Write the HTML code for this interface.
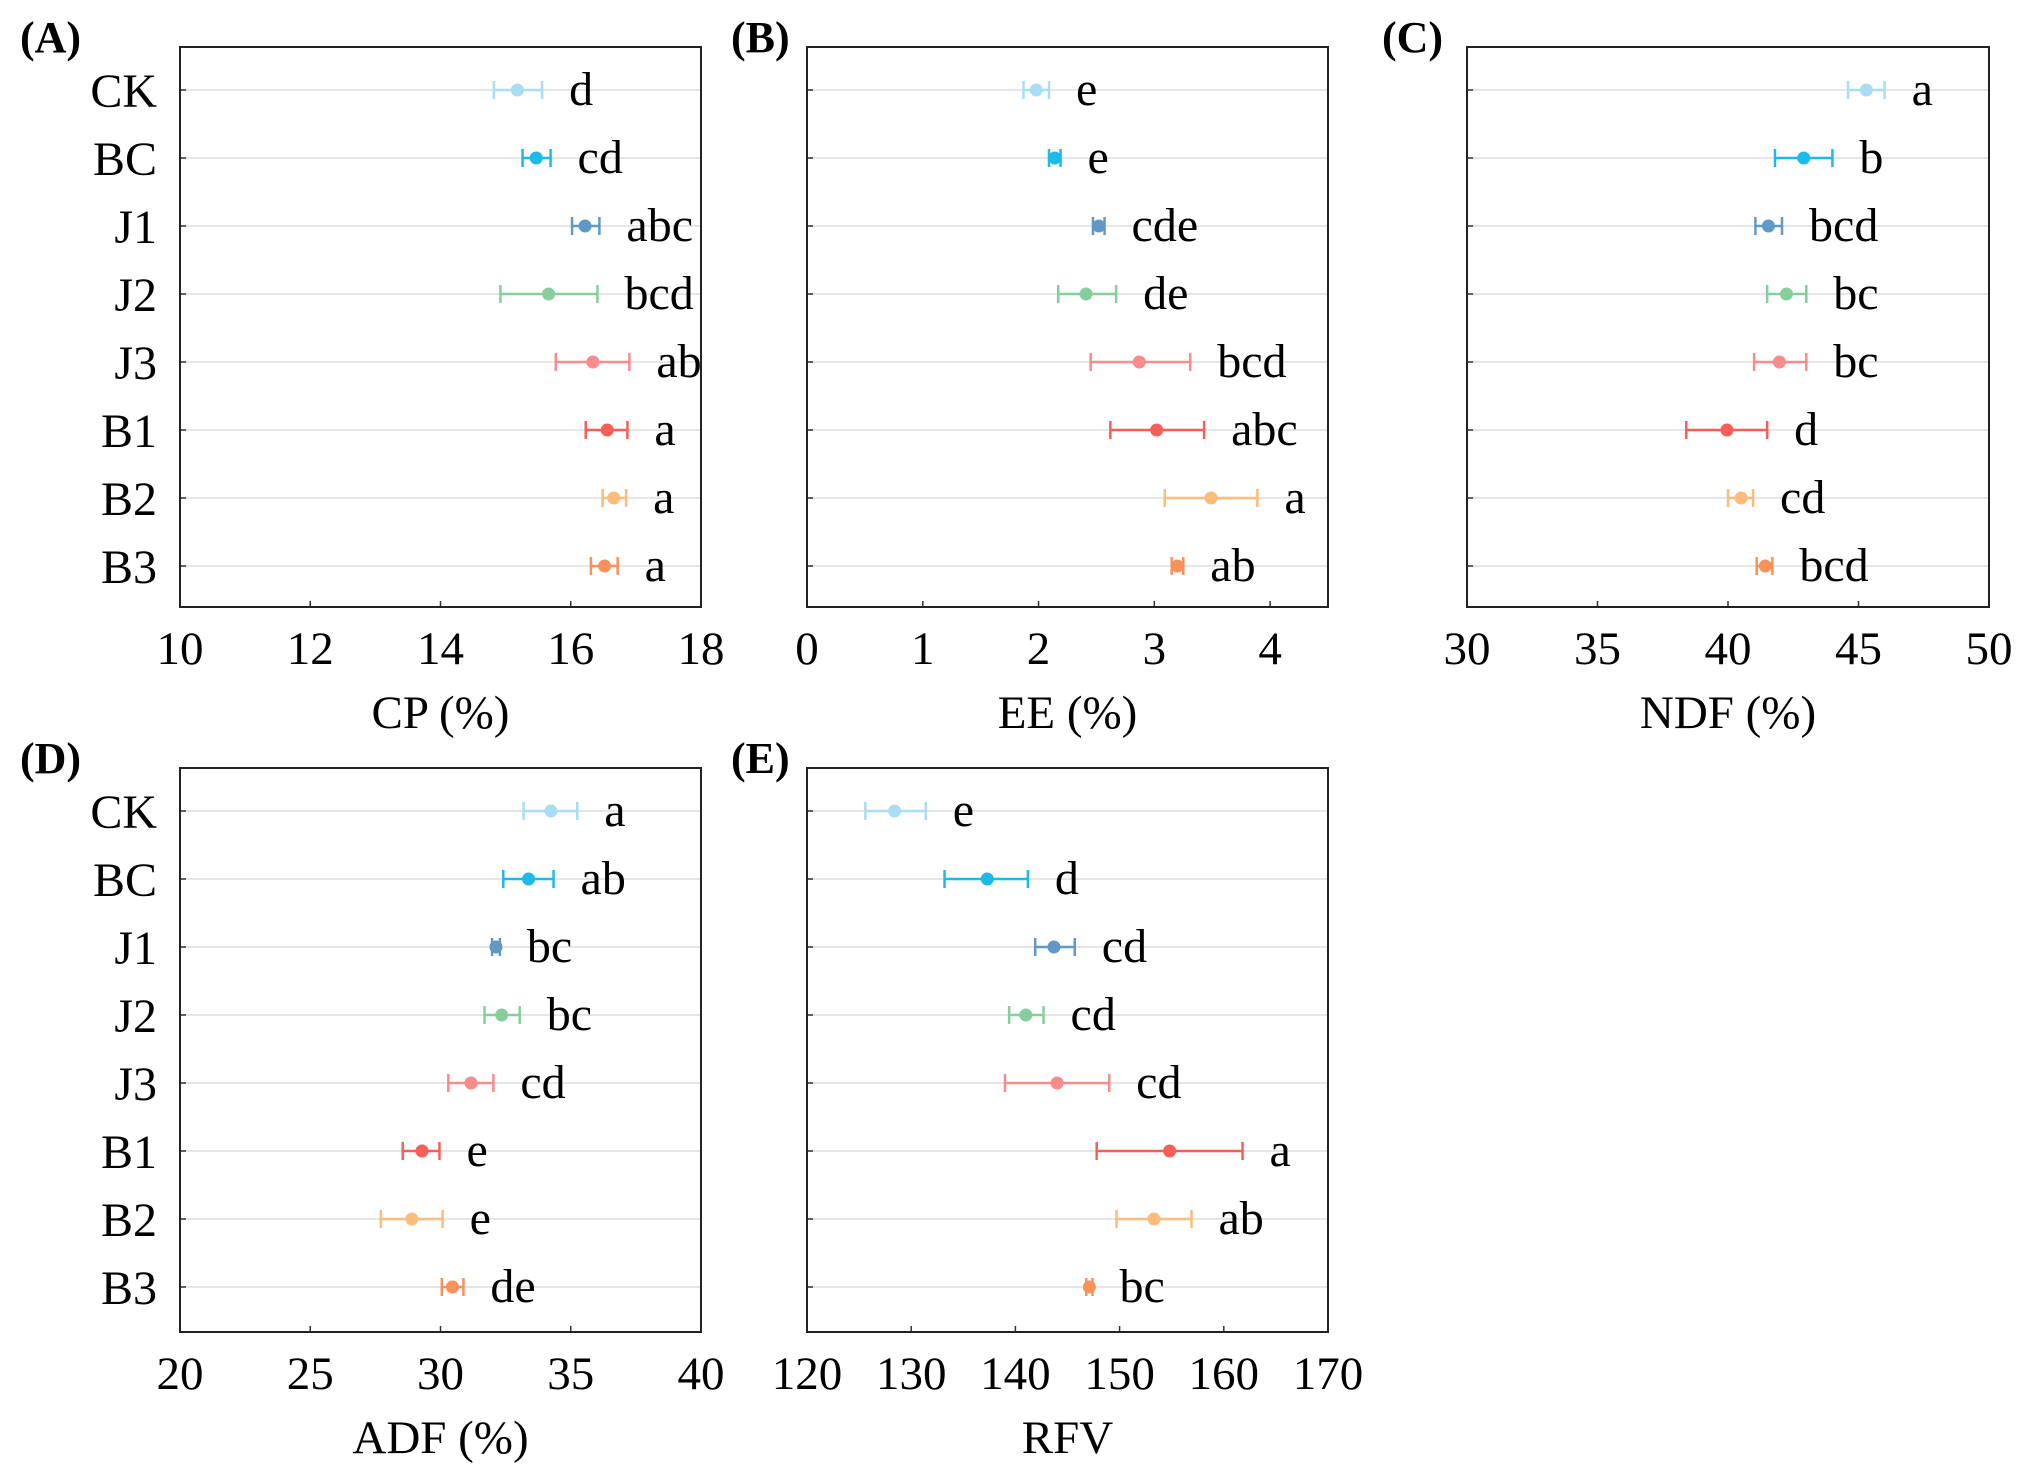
<!DOCTYPE html>
<html><head><meta charset="utf-8">
<style>
html,body{margin:0;padding:0;background:#fff;}
svg{display:block;}
text{font-family:"Liberation Serif","Times New Roman","DejaVu Serif",serif;fill:#000;}
</style></head>
<body>
<svg id="fig" width="2021" height="1479" viewBox="0 0 2021 1479" xmlns="http://www.w3.org/2000/svg" font-family="Liberation Serif, serif"></svg>
<script>
const categories = ["CK","BC","J1","J2","J3","B1","B2","B3"];
const colors = ["#a9ddf3","#1cb9e9","#6199c6","#86cf9c","#f88b8b","#f65f58","#fdbb7c","#f9915a"];
const letters = {
  A:["d","cd","abc","bcd","ab","a","a","a"],
  B:["e","e","cde","de","bcd","abc","a","ab"],
  C:["a","b","bcd","bc","bc","d","cd","bcd"],
  D:["a","ab","bc","bc","cd","e","e","de"],
  E:["e","d","cd","cd","cd","a","ab","bc"]
};
const cpMean=[15.18,15.47,16.22,15.66,16.34,16.56,16.66,16.52];
const cpLo=[14.82,15.26,16.02,14.92,15.77,16.23,16.49,16.31];
const cpHi=[15.56,15.69,16.44,16.41,16.9,16.87,16.85,16.72];
const eeMean=[1.98,2.14,2.52,2.41,2.87,3.02,3.49,3.2];
const eeLo=[1.87,2.09,2.47,2.17,2.45,2.62,3.09,3.15];
const eeHi=[2.09,2.19,2.57,2.67,3.31,3.43,3.89,3.25];
const ndfMean=[45.3,42.9,41.55,42.24,41.97,39.96,40.5,41.43];
const ndfLo=[44.6,41.8,41.05,41.5,41.0,38.4,40.0,41.1];
const ndfHi=[46.0,44.0,42.07,43.0,43.0,41.5,40.96,41.7];
const adfMean=[34.24,33.38,32.13,32.35,31.17,29.29,28.9,30.46];
const adfLo=[33.19,32.41,31.98,31.69,30.3,28.55,27.71,30.05];
const adfHi=[35.25,34.34,32.28,33.04,32.03,29.96,30.08,30.88];
const rfvMean=[128.4,137.3,143.7,141.0,144.0,154.8,153.3,147.1];
const rfvLo=[125.6,133.2,141.9,139.4,139.0,147.8,149.7,146.8];
const rfvHi=[131.4,141.2,145.7,142.7,149.0,161.8,156.9,147.4];
const ticksA=[10,12,14,16,18];
const ticksB=[0,1,2,3,4];
const ticksC=[30,35,40,45,50];
const ticksD=[20,25,30,35,40];
const ticksE=[120,130,140,150,160,170];

const NS="http://www.w3.org/2000/svg";
const svg=document.getElementById('fig');
function el(tag,attrs,parent){const e=document.createElementNS(NS,tag);for(const k in attrs)e.setAttribute(k,attrs[k]);(parent||svg).appendChild(e);return e;}

const panels=[
 {id:"A",x0:180,x1:701,y0:47,y1:607,min:10,max:18,ticks:ticksA,title:"CP (%)",mean:cpMean,lo:cpLo,hi:cpHi,cat:true,lx:20},
 {id:"B",x0:807,x1:1328,y0:47,y1:607,min:0,max:4.5,ticks:ticksB,title:"EE (%)",mean:eeMean,lo:eeLo,hi:eeHi,cat:false,lx:731},
 {id:"C",x0:1467,x1:1989,y0:47,y1:607,min:30,max:50,ticks:ticksC,title:"NDF (%)",mean:ndfMean,lo:ndfLo,hi:ndfHi,cat:false,lx:1382},
 {id:"D",x0:180,x1:701,y0:768,y1:1332,min:20,max:40,ticks:ticksD,title:"ADF (%)",mean:adfMean,lo:adfLo,hi:adfHi,cat:true,lx:20},
 {id:"E",x0:807,x1:1328,y0:768,y1:1332,min:120,max:170,ticks:ticksE,title:"RFV",mean:rfvMean,lo:rfvLo,hi:rfvHi,cat:false,lx:731}
];

panels.forEach(p=>{
  const g=el('g',{});
  
  
  const xs=v=>p.x0+(v-p.min)/(p.max-p.min)*(p.x1-p.x0);
  const rowTop=p.y0+43, step=68;
  const ys=i=>rowTop+i*step;
  const lab=el('text',{x:p.lx,y:p.y0+5,'font-size':44,'font-weight':'bold'},g);
  lab.textContent='('+p.id+')';
  
  
  categories.forEach((c,i)=>{
    const gl=el('line',{x1:p.x0,x2:p.x1,y1:ys(i),y2:ys(i),stroke:'#e6e6e6','stroke-width':2},g);
    
    
    el('line',{x1:p.x0,x2:p.x0+6,y1:ys(i),y2:ys(i),stroke:'#333','stroke-width':1.5},g);
    if(p.cat){
      const t=el('text',{x:157,y:ys(i)+17,'font-size':48,'text-anchor':'end'},g);
      t.textContent=c;
      
      
    }
  });
  p.ticks.forEach(v=>{
    const x=xs(v);
    el('line',{x1:x,x2:x,y1:p.y1,y2:p.y1-6,stroke:'#333','stroke-width':1.5},g);
    const t=el('text',{x:x,y:p.y1+57,'font-size':47,'text-anchor':'middle'},g);
    t.textContent=v;
    
    
  });
  const tt=el('text',{x:(p.x0+p.x1)/2,y:p.y1+121,'font-size':47,'text-anchor':'middle'},g);
  tt.textContent=p.title;
  
  
  categories.forEach((c,i)=>{
    const y=ys(i),col=colors[i];
    const eg=el('g',{},g);
    
    
    el('line',{x1:xs(p.lo[i]),x2:xs(p.hi[i]),y1:y,y2:y,stroke:col,'stroke-width':2.5},eg);
    el('line',{x1:xs(p.lo[i]),x2:xs(p.lo[i]),y1:y-9,y2:y+9,stroke:col,'stroke-width':2.5},eg);
    el('line',{x1:xs(p.hi[i]),x2:xs(p.hi[i]),y1:y-9,y2:y+9,stroke:col,'stroke-width':2.5},eg);
    const pt=el('circle',{cx:xs(p.mean[i]),cy:y,r:6.5,fill:col},eg);
    
    
    const lt=el('text',{x:xs(p.hi[i])+27,y:y+15,'font-size':48},g);
    lt.textContent=letters[p.id][i];
    
    
  });
  const fr=el('rect',{x:p.x0,y:p.y0,width:p.x1-p.x0,height:p.y1-p.y0,fill:'none',stroke:'#222','stroke-width':2},g);
  
  
});
</script>
</body></html>
